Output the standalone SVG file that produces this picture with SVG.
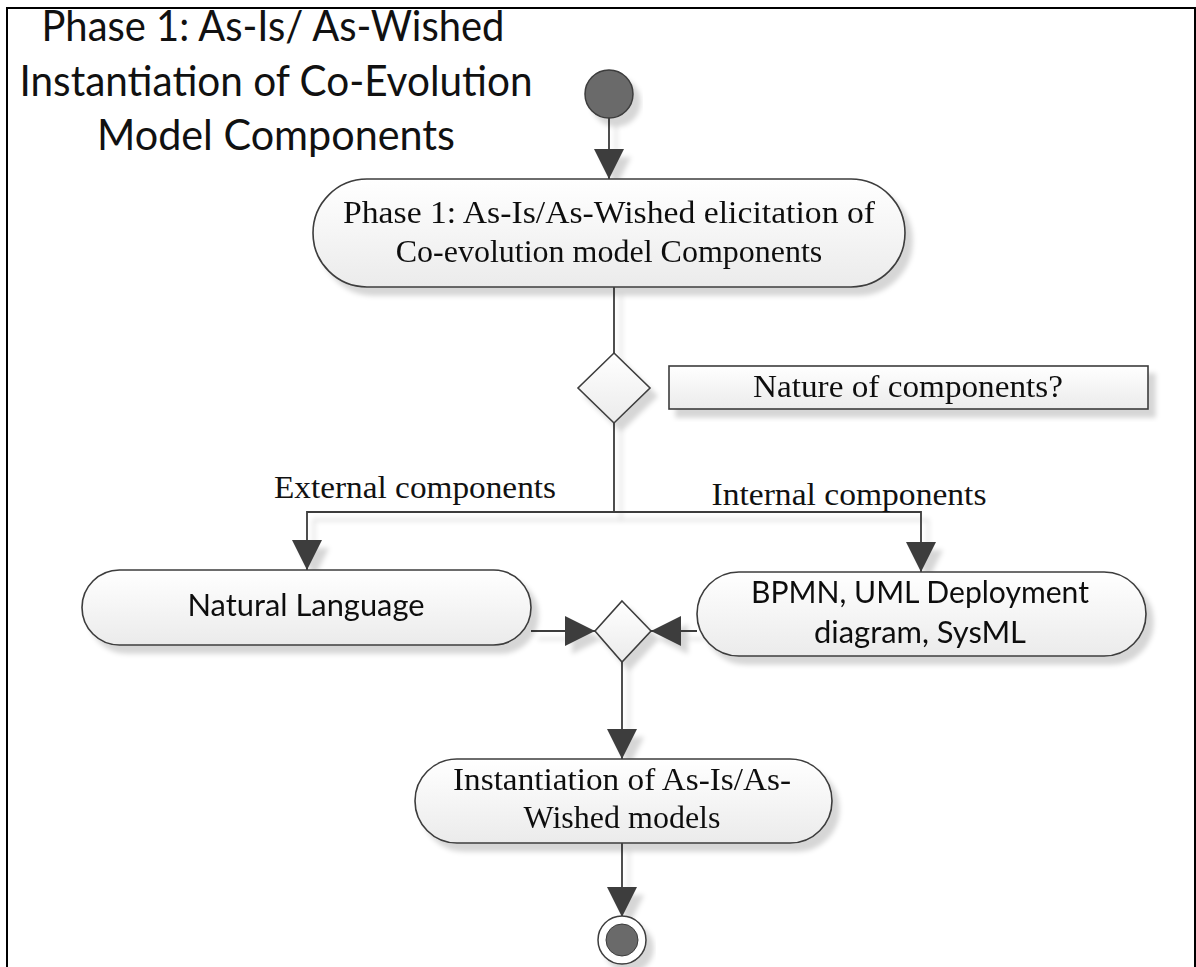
<svg xmlns="http://www.w3.org/2000/svg" width="1196" height="967" viewBox="0 0 1196 967">
<style>
.node{fill:url(#g);stroke:#3c3c3c;stroke-width:1.6}
.conn{fill:none;stroke:#3c3c3c;stroke-width:1.8}
.serif{font-family:"Liberation Serif","Times New Roman",serif;fill:#111;text-anchor:middle}
.sans{font-family:Lato,"Liberation Sans",sans-serif;fill:#111;text-anchor:middle}
</style>
<defs>
<linearGradient id="g" x1="0" y1="0" x2="0" y2="1">
<stop offset="0" stop-color="#ffffff"/>
<stop offset="1" stop-color="#ebebeb"/>
</linearGradient>
<filter id="sh" x="-10%" y="-10%" width="130%" height="140%">
<feDropShadow dx="7" dy="8" stdDeviation="2.5" flood-color="#000" flood-opacity="0.16"/>
</filter>
<marker id="arr" viewBox="0 0 30 30" refX="30" refY="15" markerWidth="30" markerHeight="30" markerUnits="userSpaceOnUse" orient="auto">
<path d="M0,0 L30,15 L0,30 Z" fill="#3c3c3c"/>
</marker>
</defs>
<rect width="1196" height="967" fill="#fff"/>
<path d="M7,967 V8 H1195 V967" fill="none" stroke="#000" stroke-width="2"/>
<g id="title">
<text class="sans" x="273" y="41" font-size="43" textLength="463" lengthAdjust="spacingAndGlyphs">Phase 1: As-Is/ As-Wished</text>
<text class="sans" x="276" y="96" font-size="43" textLength="513" lengthAdjust="spacingAndGlyphs">Instantiation of Co-Evolution</text>
<text class="sans" x="276" y="150" font-size="43" textLength="358" lengthAdjust="spacingAndGlyphs">Model Components</text>
</g>
<g id="connectors" filter="url(#sh)">
<path class="conn" d="M609,118 V179" marker-end="url(#arr)"/>
<path class="conn" d="M614,287 V353"/>
<path class="conn" d="M614,423 V512 H307 V570" marker-end="url(#arr)"/>
<path class="conn" d="M614,512 H921 V572" marker-end="url(#arr)"/>
<path class="conn" d="M531,631 H595" marker-end="url(#arr)"/>
<path class="conn" d="M697,631 H651" marker-end="url(#arr)"/>
<path class="conn" d="M622,662 V759" marker-end="url(#arr)"/>
<path class="conn" d="M622,843 V917" marker-end="url(#arr)"/>
</g>
<g id="labels">
<text class="serif" x="415" y="498" font-size="32" textLength="282" lengthAdjust="spacingAndGlyphs">External components</text>
<text class="serif" x="849" y="505" font-size="32" textLength="275" lengthAdjust="spacingAndGlyphs">Internal components</text>
</g>
<g id="start" filter="url(#sh)">
<circle cx="609" cy="94" r="24" fill="#6b6b6b" stroke="#3c3c3c" stroke-width="1.5"/>
</g>
<g id="phase1" filter="url(#sh)">
<rect class="node" x="313" y="179" width="592" height="108" rx="54"/>
<text class="serif" x="609" y="223" font-size="32" textLength="532" lengthAdjust="spacingAndGlyphs">Phase 1: As-Is/As-Wished elicitation of</text>
<text class="serif" x="609" y="262" font-size="32">Co-evolution model Components</text>
</g>
<g id="decision1" filter="url(#sh)">
<polygon class="node" points="614,353 650,388 614,423 578,388"/>
</g>
<g id="note" filter="url(#sh)">
<rect class="node" x="669" y="366" width="479" height="43" stroke="#333"/>
<text class="serif" x="908" y="397" font-size="31" textLength="310" lengthAdjust="spacingAndGlyphs">Nature of components?</text>
</g>
<g id="natural" filter="url(#sh)">
<rect class="node" x="82" y="570" width="449" height="75" rx="37.5"/>
<text class="sans" x="306" y="616" font-size="31" textLength="237" lengthAdjust="spacingAndGlyphs">Natural Language</text>
</g>
<g id="bpmn" filter="url(#sh)">
<rect class="node" x="697" y="572" width="449" height="84" rx="42"/>
<text class="sans" x="920" y="603" font-size="31" textLength="338" lengthAdjust="spacingAndGlyphs">BPMN, UML Deployment</text>
<text class="sans" x="920" y="643" font-size="31" textLength="212" lengthAdjust="spacingAndGlyphs">diagram, SysML</text>
</g>
<g id="merge" filter="url(#sh)">
<polygon class="node" points="622,601 651,631 622,662 595,631"/>
</g>
<g id="instantiation" filter="url(#sh)">
<rect class="node" x="415" y="759" width="417" height="84" rx="42"/>
<text class="serif" x="622" y="790" font-size="32" textLength="338" lengthAdjust="spacingAndGlyphs">Instantiation of As-Is/As-</text>
<text class="serif" x="622" y="828" font-size="32">Wished models</text>
</g>
<g id="end" filter="url(#sh)">
<circle cx="622" cy="940" r="24" fill="#fff" stroke="#3c3c3c" stroke-width="1.5"/>
<circle cx="622" cy="940" r="16" fill="#6b6b6b" stroke="#3c3c3c" stroke-width="1"/>
</g>
</svg>
